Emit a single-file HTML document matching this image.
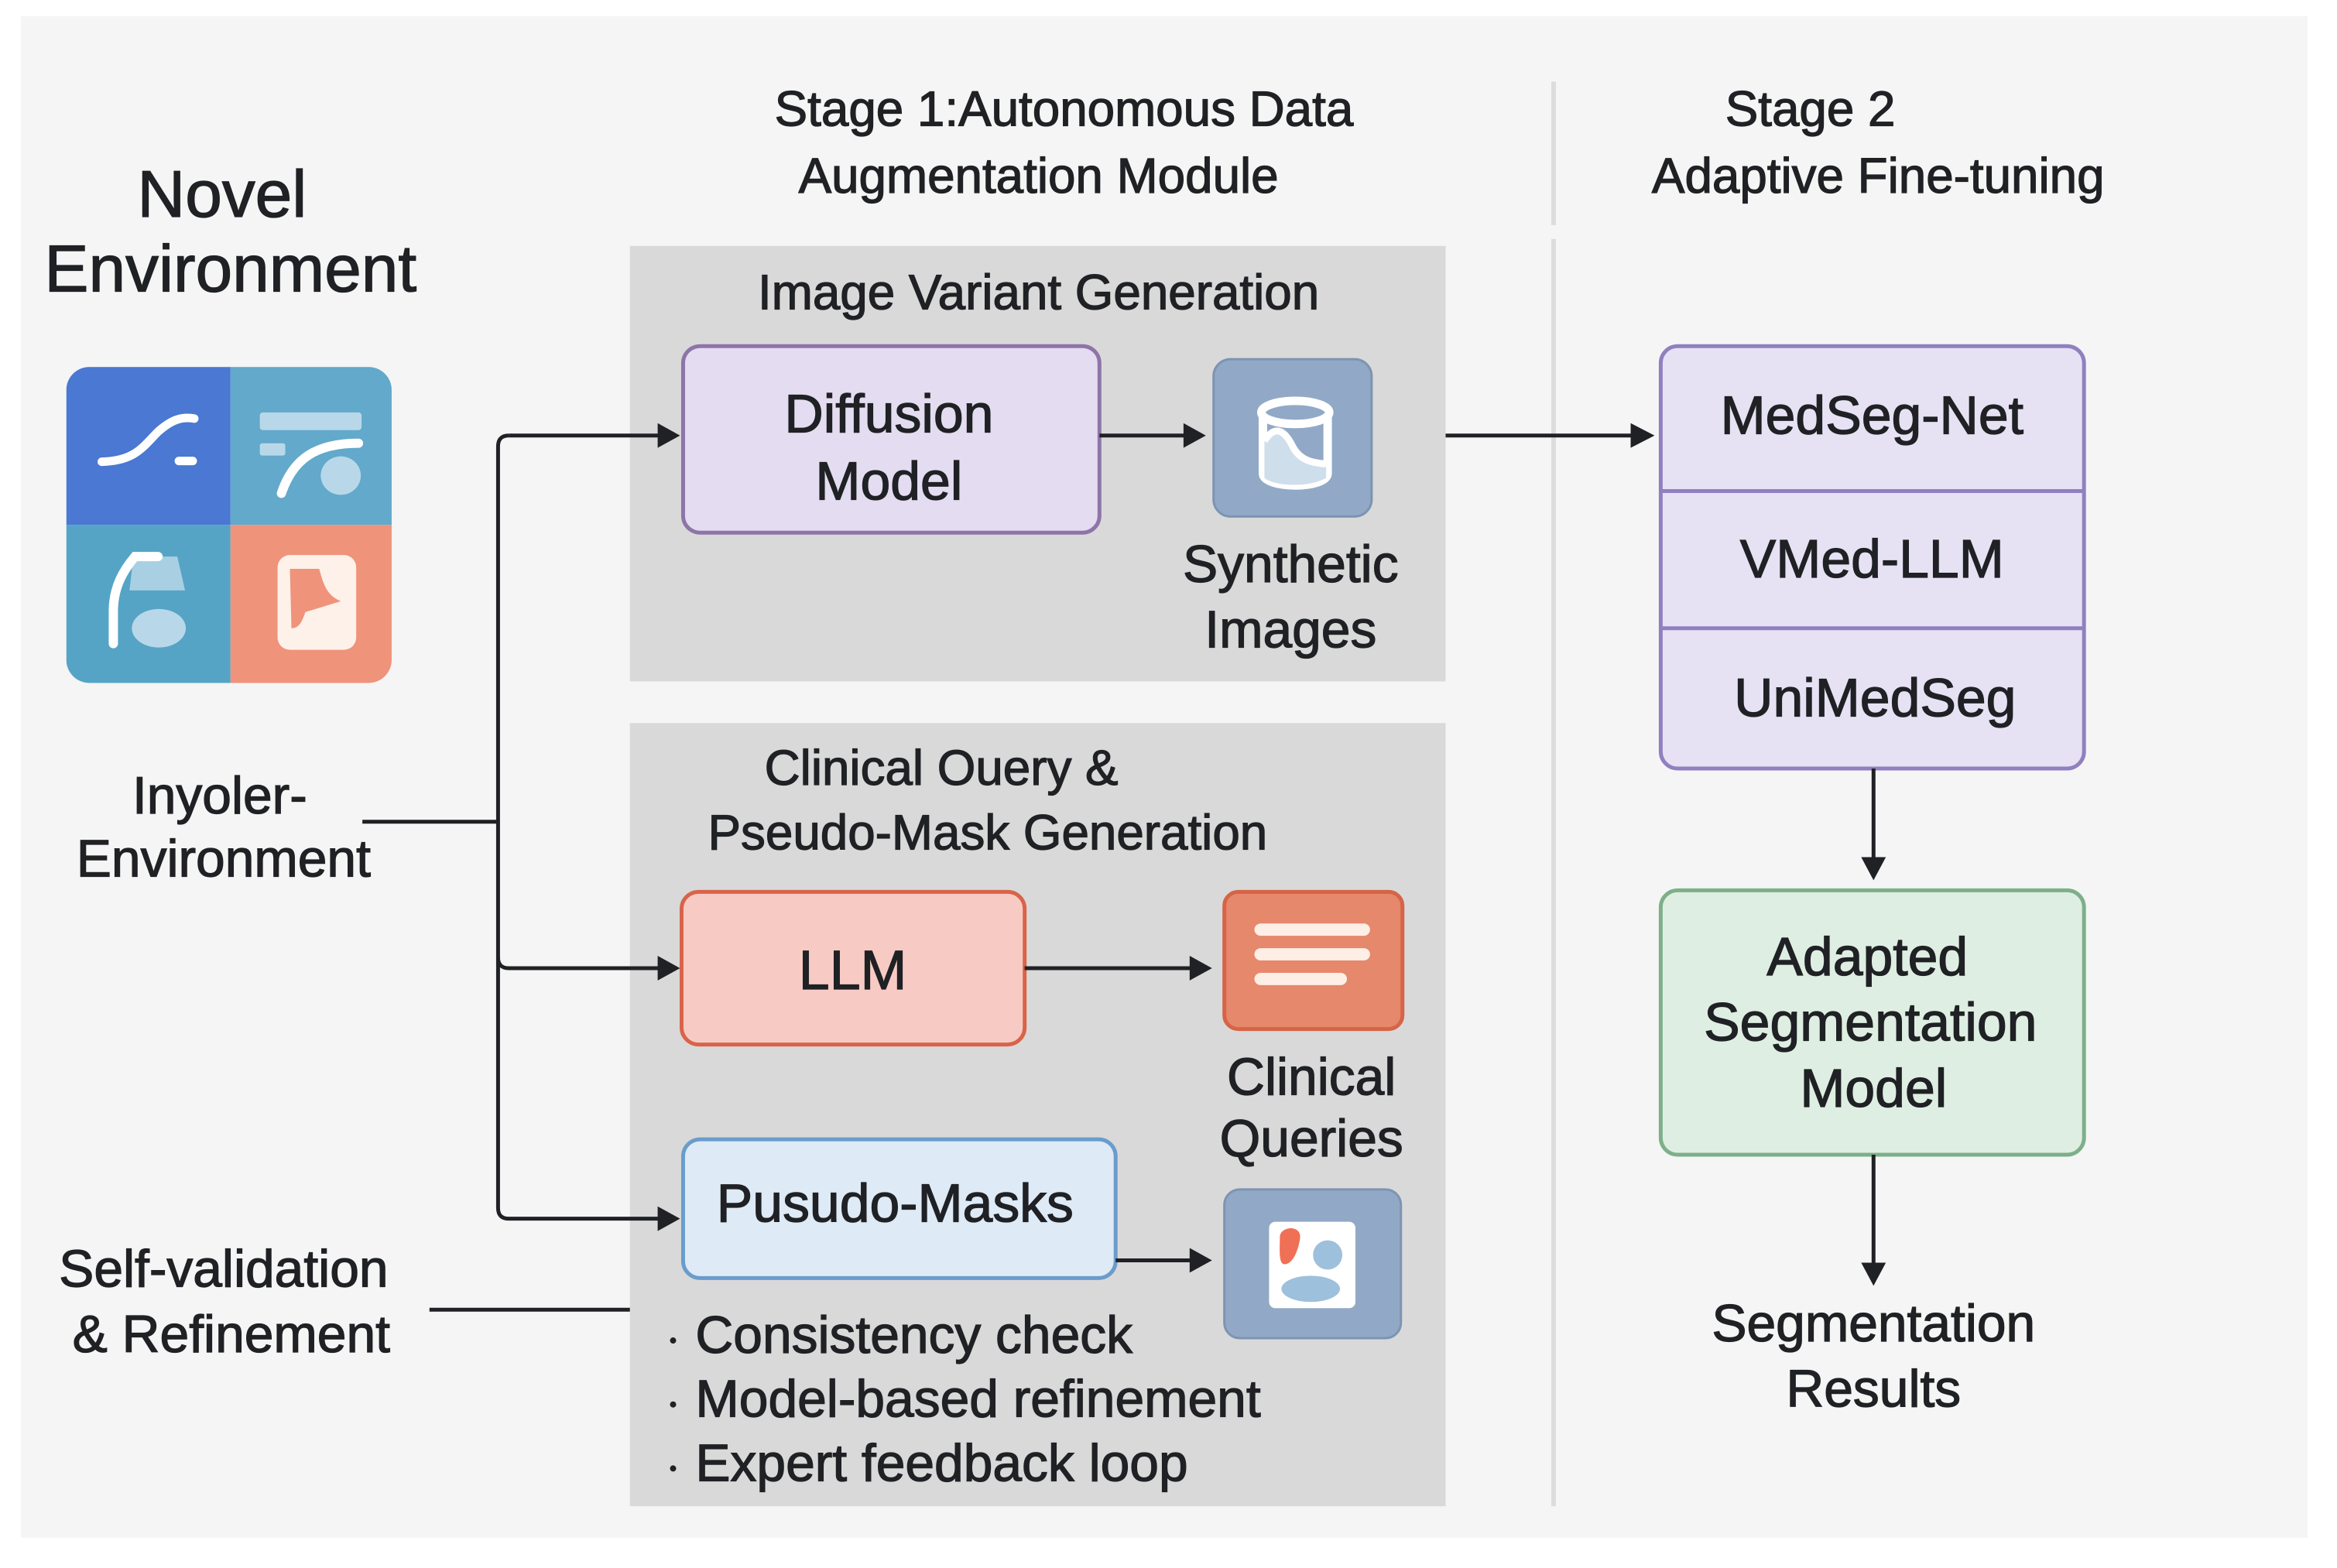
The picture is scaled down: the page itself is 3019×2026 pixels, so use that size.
<!DOCTYPE html>
<html><head><meta charset="utf-8"><style>
html,body{margin:0;padding:0;background:#fff;}
svg{display:block}
text{font-family:"Liberation Sans","DejaVu Sans",sans-serif;fill:#1f2124;stroke:#1f2124;stroke-width:1.3px;}
</style></head><body>
<svg width="3019" height="2026" viewBox="0 0 3019 2026" xmlns="http://www.w3.org/2000/svg">
<g transform="scale(0.996)">
<rect x="27" y="21" width="2966" height="1974" fill="#f5f5f5"/>
<rect x="2012" y="106" width="6" height="186" fill="#dcdcdc"/>
<rect x="2012" y="310" width="6" height="1644" fill="#dcdcdc"/>

<text x="288" y="281" font-size="86" text-anchor="middle">Novel</text>
<text x="299" y="378" font-size="86" text-anchor="middle">Environment</text>

<g>
<clipPath id="ic"><rect x="86" y="476" width="422" height="410" rx="30"/></clipPath>
<g clip-path="url(#ic)">
<rect x="86" y="476" width="213" height="205" fill="#4a78d2"/>
<rect x="299" y="476" width="209" height="205" fill="#62a9cb"/>
<rect x="86" y="681" width="213" height="205" fill="#55a4c6"/>
<rect x="299" y="681" width="209" height="205" fill="#ef937b"/>
</g>
<path d="M132 599 C175 598 185 580 205 560 C222 545 235 540 252 543" stroke="#fff" stroke-width="11" fill="none" stroke-linecap="round"/>
<line x1="232" y1="598" x2="250" y2="598" stroke="#fff" stroke-width="11" stroke-linecap="round"/>
<rect x="337" y="535" width="132" height="23" rx="4" fill="#b8d8e9"/>
<rect x="337" y="575" width="33" height="16" rx="3" fill="#b8d8e9"/>
<path d="M365 640 C380 595 410 575 465 575" stroke="#fff" stroke-width="12" fill="none" stroke-linecap="round"/>
<ellipse cx="442" cy="617" rx="26" ry="25" fill="#b8d8e9"/>
<path d="M173 722 L230 722 L240 766 L168 766 Z" fill="#a9cfe3"/>
<path d="M147 835 L147 790 C148 760 160 740 175 722 L205 722" stroke="#fff" stroke-width="12" fill="none" stroke-linecap="round"/>
<ellipse cx="206" cy="815" rx="35" ry="25" fill="#b8d8e9"/>
<rect x="360" y="720" width="102" height="123" rx="16" fill="#fdf1e9"/>
<path d="M376 738 L414 738 C420 760 424 772 442 780 L396 794 C392 806 388 815 378 815 Z" fill="#ef937b"/>
</g>

<text x="285" y="1055" font-size="68" text-anchor="middle">Inyoler-</text>
<text x="290" y="1137" font-size="68" text-anchor="middle">Environment</text>
<text x="290" y="1669" font-size="68" text-anchor="middle">Self-validation</text>
<text x="300" y="1754" font-size="68" text-anchor="middle">&amp; Refinement</text>

<text x="1380" y="163" font-size="64" text-anchor="middle">Stage 1:Autonomous Data</text>
<text x="1347" y="250" font-size="64" text-anchor="middle">Augmentation Module</text>
<text x="2348" y="163" font-size="64" text-anchor="middle">Stage 2</text>
<text x="2436" y="250" font-size="64" text-anchor="middle">Adaptive Fine-tuning</text>

<rect x="817" y="319" width="1058" height="565" fill="#d9d9d9"/>
<rect x="817" y="938" width="1058" height="1016" fill="#d9d9d9"/>
<text x="1347" y="401" font-size="64" text-anchor="middle">Image Variant Generation</text>
<text x="1221" y="1018" font-size="64" text-anchor="middle">Clinical Ouery &amp;</text>
<text x="1281" y="1102" font-size="64" text-anchor="middle">Pseudo-Mask Generation</text>

<rect x="886" y="449" width="540" height="242" rx="22" fill="#e4dcf0" stroke="#8e74a8" stroke-width="5"/>
<text x="1153" y="561" font-size="70" text-anchor="middle">Diffusion</text>
<text x="1153" y="648" font-size="70" text-anchor="middle">Model</text>
<rect x="1574" y="466" width="205" height="204" rx="22" fill="#91a9c6" stroke="#7d94b2" stroke-width="3"/>
<path d="M1638 537 L1638 614 C1638 635 1722 635 1722 614 L1722 537" fill="none" stroke="#fff" stroke-width="11"/>
<path d="M1640 570 C1655 550 1668 565 1675 580 C1685 598 1700 600 1720 602 L1720 620 C1700 632 1655 632 1640 620 Z" fill="#cfdeeb"/>
<path d="M1640 572 C1655 548 1668 562 1676 578 C1686 598 1702 600 1720 602" fill="none" stroke="#fff" stroke-width="9"/>
<ellipse cx="1680" cy="535" rx="44" ry="15" fill="none" stroke="#fff" stroke-width="11"/>
<text x="1674" y="755" font-size="68" text-anchor="middle">Synthetic</text>
<text x="1674" y="840" font-size="68" text-anchor="middle">Images</text>

<rect x="884" y="1157" width="445" height="198" rx="22" fill="#f7cbc4" stroke="#d9634a" stroke-width="5"/>
<text x="1106" y="1283" font-size="72" text-anchor="middle">LLM</text>
<rect x="1588" y="1157" width="231" height="178" rx="18" fill="#e5886c" stroke="#d66446" stroke-width="5"/>
<rect x="1627" y="1198" width="150" height="16" rx="8" fill="#fdeee6"/>
<rect x="1627" y="1230" width="150" height="16" rx="8" fill="#fdeee6"/>
<rect x="1627" y="1262" width="120" height="16" rx="8" fill="#fdeee6"/>
<text x="1701" y="1420" font-size="68" text-anchor="middle">Clinical</text>
<text x="1701" y="1500" font-size="68" text-anchor="middle">Queries</text>

<rect x="886" y="1478" width="561" height="180" rx="22" fill="#deeaf5" stroke="#6a9ccc" stroke-width="5"/>
<text x="1161" y="1585" font-size="70" text-anchor="middle">Pusudo-Masks</text>
<rect x="1588" y="1543" width="229" height="193" rx="20" fill="#91a9c6" stroke="#7d94b2" stroke-width="3"/>
<rect x="1646" y="1585" width="112" height="112" rx="8" fill="#fff"/>
<path d="M1660 1605 C1660 1590 1690 1588 1686 1608 C1683 1625 1676 1640 1666 1640 C1658 1640 1660 1620 1660 1605 Z" fill="#ef7055"/>
<circle cx="1722" cy="1628" r="19" fill="#9dc0dc"/>
<ellipse cx="1700" cy="1672" rx="38" ry="17" fill="#9dc0dc"/>

<g font-size="68">
<circle cx="873" cy="1739" r="4" fill="#1f2124"/><text x="902" y="1755">Consistency check</text>
<circle cx="873" cy="1822" r="4" fill="#1f2124"/><text x="902" y="1838">Model-based refinement</text>
<circle cx="873" cy="1905" r="4" fill="#1f2124"/><text x="902" y="1921">Expert feedback loop</text>
</g>

<rect x="2154" y="449" width="549" height="548" rx="22" fill="#e6e2f4" stroke="#9080c0" stroke-width="5"/>
<line x1="2154" y1="637" x2="2703" y2="637" stroke="#9080c0" stroke-width="5"/>
<line x1="2154" y1="815" x2="2703" y2="815" stroke="#9080c0" stroke-width="5"/>
<text x="2428" y="563" font-size="70" text-anchor="middle">MedSeg-Net</text>
<text x="2428" y="749" font-size="70" text-anchor="middle">VMed-LLM</text>
<text x="2432" y="929" font-size="70" text-anchor="middle">UniMedSeg</text>

<rect x="2154" y="1155" width="549" height="343" rx="22" fill="#dfeee2" stroke="#7db08a" stroke-width="5"/>
<text x="2422" y="1265" font-size="70" text-anchor="middle">Adapted</text>
<text x="2426" y="1350" font-size="70" text-anchor="middle">Segmentation</text>
<text x="2430" y="1436" font-size="70" text-anchor="middle">Model</text>
<text x="2430" y="1740" font-size="68" text-anchor="middle">Segmentation</text>
<text x="2430" y="1825" font-size="68" text-anchor="middle">Results</text>

<g stroke="#1f2124" stroke-width="5" fill="none">
<path d="M660 565 Q646 565 646 579 L646 1567 Q646 1581 660 1581 L855 1581"/>
<path d="M646 1242 Q646 1256 660 1256 L855 1256"/>
<line x1="660" y1="565" x2="855" y2="565"/>
<line x1="470" y1="1066" x2="646" y2="1066"/>
<line x1="557" y1="1699" x2="817" y2="1699"/>
<line x1="1426" y1="565" x2="1538" y2="565"/>
<line x1="1875" y1="565" x2="2120" y2="565"/>
<line x1="1329" y1="1256" x2="1546" y2="1256"/>
<line x1="1447" y1="1635" x2="1546" y2="1635"/>
<line x1="2430" y1="997" x2="2430" y2="1115"/>
<line x1="2430" y1="1498" x2="2430" y2="1640"/>
</g>
<g fill="#1f2124">
<polygon points="853,549 882,565 853,581"/>
<polygon points="853,1240 882,1256 853,1272"/>
<polygon points="853,1565 882,1581 853,1597"/>
<polygon points="1535,549 1564,565 1535,581"/>
<polygon points="2115,549 2146,565 2115,581"/>
<polygon points="1543,1240 1572,1256 1543,1272"/>
<polygon points="1543,1619 1572,1635 1543,1651"/>
<polygon points="2414,1112 2446,1112 2430,1142"/>
<polygon points="2414,1638 2446,1638 2430,1668"/>
</g>
</g>
</svg>
</body></html>
